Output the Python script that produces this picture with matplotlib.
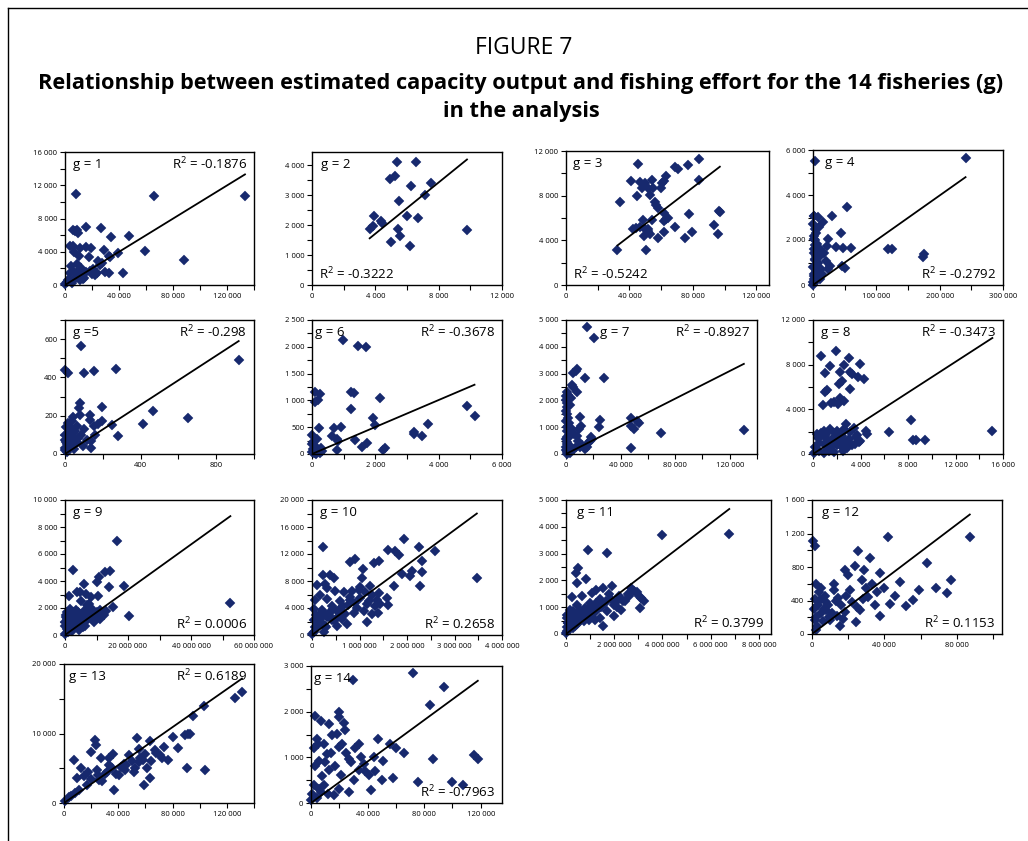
import matplotlib
matplotlib.use("Agg")
import matplotlib.pyplot as plt
from matplotlib.ticker import MultipleLocator, FuncFormatter
from matplotlib.lines import Line2D

plt.rcParams["mathtext.fontset"] = "custom"
plt.rcParams["mathtext.rm"] = "Open Sans"
plt.rcParams["mathtext.it"] = "Open Sans:italic"
plt.rcParams["mathtext.bf"] = "Open Sans:bold"

W, H = 1028, 841

# ---- fishery data: fishing effort (x) vs estimated capacity output (y) ----
g1_x = [8150, 65900, 133300, 6170, 8640, 9380, 7400, 15800, 26400, 34070, 47150,
        3700, 5900, 11360, 15550, 19500, 28640, 39500, 59500, 6670, 10120, 17530,
        4690, 8640, 24700, 25900, 32300, 33600, 88400, 3700, 6670, 9630, 12100,
        12840, 15550, 18500, 21000, 22500, 23900, 29900, 32800, 42700, 2220, 4940,
        11100, 13100, 5180, 1230, 250, 10500, 14000, 27500, 20000, 7800, 11800]
g1_y = [10930, 10650, 10690, 6650, 6650, 6260, 6500, 6970, 6850, 5780, 5940,
        4670, 4670, 4435, 4515, 4400, 4200, 3880, 4120, 3960, 3485, 3326,
        2300, 2530, 2930, 2415, 3485, 3326, 3010, 1425, 1505, 1742, 2060,
        1030, 1505, 1742, 1900, 1188, 1425, 1584, 1425, 1425, 634, 475,
        634, 713, 238, 317, 80, 1200, 900, 2700, 1300, 1000, 1800]

g2_x = [5347, 6589, 4947, 5263, 7536, 6273, 7115, 5515, 3894, 4378, 4420, 5999,
        6694, 3642, 3831, 5410, 5578, 4989, 6210, 9788]
g2_y = [4122, 4122, 3530, 3641, 3407, 3306, 3005, 2826, 2301, 2133, 2066, 2312,
        2256, 1877, 1966, 1877, 1653, 1430, 1296, 1854]

g3_x = [45440, 83790, 76640, 68680, 70570, 41250, 46480, 49620, 54230, 47950,
        51720, 54860, 60100, 60730, 61780, 63250, 83750, 53190, 44810, 34340,
        56120, 56960, 58010, 61780, 63250, 62000, 64300, 48580, 54440, 44390,
        46480, 51720, 49620, 42300, 51720, 52770, 49210, 58000, 61780, 68680,
        75170, 77510, 79390, 93180, 96320, 97000, 95900, 32460, 50260]
g3_y = [10800, 11310, 10710, 10530, 10350, 9295, 9265, 9144, 9385, 8693,
        8663, 8663, 8663, 9144, 9355, 9746, 9445, 8091, 7941, 7460,
        7460, 7189, 6919, 6437, 5896, 5715, 6016, 5836, 5805, 5114,
        5234, 5053, 5053, 5050, 4813, 4542, 4362, 4241, 4783, 5234,
        4241, 6317, 4783, 5384, 6618, 6560, 4572, 3098, 3098]

g4_x = [3665, 240860, 2094, 7330, 30370, 53400, 15180, 9425, 3142, 4190, 43980,
        3142, 24090, 6280, 11520, 21990, 35600, 47650, 60740, 118860, 124620,
        10470, 16760, 19900, 175930, 173840, 3142, 6280, 23040, 27230, 45550,
        50470, 1047, 5800, 11520, 1500, 0, 2094, 4190, 7330, 3142, 1000,
        500, 800, 1500, 2500, 600, 900, 2000, 5000, 8000, 12000, 14000, 700, 1200]
g4_y = [5509, 5629, 3046, 3016, 3046, 3449, 2807, 2598, 2508, 2329, 2299,
        1986, 2030, 1821, 1583, 1732, 1702, 1642, 1642, 1583, 1583,
        1284, 1433, 1045, 1359, 1254, 1135, 761, 717, 836, 866,
        776, 388, 388, 269, 90, 0, 1433, 612, 985, 1762, 2030,
        2700, 2200, 1600, 1100, 800, 500, 250, 1300, 1500, 700, 500, 150, 3050]

g5_x = [85, 0, 18, 101, 156, 272, 80, 76, 80, 196, 130, 44, 18, 62, 34, 130, 155,
        172, 194, 249, 414, 468, 649, 919, 279, 160, 84, 137, 94, 137, 2, 18, 44,
        5, 27, 2, 9, 62, 30, 53, 10, 25, 40, 70, 100, 115, 6, 15, 50, 0, 0, 35]
g5_y = [565, 441, 424, 421, 436, 445, 265, 238, 203, 248, 203, 191, 162, 148,
        138, 176, 148, 155, 174, 153, 157, 226, 186, 493, 93, 100, 97, 69, 41, 31,
        97, 79, 88, 62, 36, 19, 10, 62, 114, 122, 50, 60, 45, 85, 130, 75, 140,
        100, 25, 75, 30, 170]

g6_x = [984, 1460, 1703, 85, 265, 106, 190, 1227, 1323, 1227, 2148, 1915, 1979,
        3661, 3206, 3206, 3470, 4899, 5132, 212, 688, 931, 635, 794, 825, 804,
        1354, 1725, 1566, 2232, 2307, 159, 0, 0, 85, 286, 0, 138, 243,
        40, 60, 120, 180, 320, 30, 70]
g6_y = [2125, 2013, 1988, 1156, 1125, 969, 1000, 1156, 1138, 838, 1050, 675, 544,
        563, 419, 375, 338, 900, 713, 488, 481, 500, 338, 288, 238, 75,
        263, 200, 125, 75, 113, 281, 363, 188, 156, 113, 31, 0, 12,
        100, 60, 40, 80, 50, 230, 20]

g7_x = [15300, 20250, 5430, 7900, 7000, 13580, 27650, 4200, 5430, 7900, 490, 0,
        490, 990, 2960, 0, 1730, 4200, 10370, 10860, 9880, 7900, 2470, 490, 18270,
        17780, 19010, 24690, 24200, 47400, 47900, 49870, 53580, 51800, 69630,
        47400, 130360, 15310, 10370, 0, 490, 2960, 7400, 14070, 490, 0,
        200, 800, 1500, 300, 1200, 600, 2000, 3500, 1000, 0, 400, 2500, 6000, 9000,
        3000, 1800, 700, 12000, 16000, 5000]
g7_y = [4757, 4347, 3005, 3167, 3080, 2819, 2819, 2583, 2484, 2298, 2298, 2012,
        1739, 1490, 1838, 1242, 1056, 932, 1366, 1043, 932, 683, 621, 646, 621,
        497, 546, 1267, 994, 1341, 1056, 932, 1143, 1240, 782,
        224, 894, 273, 248, 149, 0, 50, 248, 186, 373, 248,
        2150, 1900, 2200, 1600, 1350, 850, 1150, 2100, 450, 550, 1000, 700, 750, 500,
        300, 120, 80, 350, 420, 150]

g8_x = [699, 1930, 3033, 3916, 2629, 1398, 979, 3133, 3273, 2293, 2433, 2153, 3804,
        4335, 3077, 1175, 979, 2237, 2629, 1510, 1734, 839, 2098,
        336, 895, 1454, 2014, 2573, 3133, 2797, 3413, 4531, 4475, 615, 1175, 1734,
        2294, 2993, 3636, 3972, 895, 1454, 2014, 2433, 2853, 196, 475, 895, 1315,
        56, 6377, 8279, 8447, 8643, 9426, 15104, 1874, 3832,
        500, 700, 1100, 1600, 1900, 2400, 2700, 3300, 3700, 1250, 2150, 2650, 3500,
        400, 1000, 1800, 2500, 3000]
g8_y = [8750, 9200, 8630, 8090, 8000, 7850, 7250, 7340, 7190, 7340, 6530, 6290, 6890,
        6680, 5840, 5690, 5540, 5030, 4790, 4550, 4640, 4370, 4490,
        1798, 2097, 2247, 2097, 2037, 1947, 2696, 2337, 1798, 2097, 1498, 1348, 1498,
        1198, 1348, 1558, 1198, 899, 659, 839, 599, 539, 599, 300, 60, 300,
        60, 2007, 3056, 1258, 1258, 1258, 2037, 1858, 1049,
        1000, 1900, 1750, 1100, 950, 1650, 1050, 850, 1700, 400, 1450, 2200, 900,
        1400, 1700, 200, 250, 800]

g9_x = [16.58e6, 2.46e6, 12.83e6, 14.44e6, 10.70e6, 10.16e6, 5.88e6, 3.74e6,
        4.81e6, 6.74e6, 1.39e6, 13.90e6, 18.72e6, 8.24e6, 5.03e6, 7.49e6, 10.37e6,
        15.29e6, 20.32e6, 52.5e6,
        0.53e6, 1.6e6, 2.67e6, 0.53e6, 2.14e6, 3.74e6, 5.35e6, 6.95e6, 8.56e6,
        10.16e6, 11.23e6, 11.76e6, 11.0e6, 9.09e6, 5.88e6, 3.74e6, 1.6e6, 0.53e6,
        0, 1.07e6, 2.67e6, 4.81e6, 6.42e6, 12.3e6, 0, 0.1e6, 1.2e6, 3.0e6, 4.2e6,
        7.8e6, 0.3e6, 2.0e6,
        0.8e6, 1.8e6, 2.9e6, 3.5e6, 4.5e6, 5.5e6, 6.2e6, 7.2e6, 8.0e6, 9.5e6,
        0.2e6, 1.4e6, 2.4e6, 3.2e6, 4.0e6, 5.0e6, 6.0e6, 7.0e6, 8.8e6, 13.0e6,
        0.6e6, 1.1e6, 2.2e6, 3.3e6, 4.4e6, 5.6e6, 0.4e6, 0.9e6]
g9_y = [6940, 4816, 4644, 4718, 4273, 3903, 3754, 3211, 3162, 3038, 2915, 3532,
        3656, 2791, 2544, 2297, 2915, 2050, 1433, 2347,
        1680, 1927, 1680, 1186, 1309, 1433, 1556, 1729, 1927, 1729, 1877, 1433,
        1186, 988, 939, 889, 692, 445, 74, 198, 445, 494, 692, 1482, 692, 939,
        1000, 1100, 800, 1300, 1500, 1800,
        1450, 1550, 1250, 1850, 1150, 1350, 1000, 1250, 1550, 1250,
        1300, 1100, 900, 1000, 1700, 700, 1800, 2200, 1100, 1800,
        600, 300, 300, 650, 400, 600, 1000, 850]

g10_x = [231600, 1.93e6, 2.25e6, 2.58e6, 1.61e6, 1.75e6, 1.84e6, 2.32e6, 912000,
         807000, 1.30e6, 1.42e6, 1.07e6, 2.10e6, 2.32e6, 1.89e6, 2.07e6, 232000,
         386000, 456000, 1.05e6, 3.47e6, 105000, 281000, 316000, 1.72e6, 2.28e6,
         1.02e6, 1.23e6,
         491000, 667000, 842000, 983000, 1.12e6, 1.26e6, 1.40e6, 175000, 316000,
         70000, 597000, 807000, 1.02e6, 1.19e6, 1.37e6, 1.58e6, 1.44e6, 1.59e6,
         421000, 211000, 386000, 597000, 702000, 877000, 1.09e6, 1.26e6, 1.38e6,
         1.16e6, 35000, 91000, 175000, 316000, 456000, 632000, 526000, 281000,
         105000, 35000, 246000, 0, 140000, 737000,
         50000, 150000, 250000, 350000, 450000, 550000, 650000, 750000, 950000,
         1.15e6, 1.32e6, 60000, 200000, 300000, 420000, 520000, 800000, 900000]
g10_y = [13000, 14250, 13100, 12400, 12650, 12400, 11800, 11000, 11300, 10750,
         10650, 10900, 9800, 9500, 9300, 9000, 8800, 8900, 8900, 8500, 8400, 8500,
         7400, 7500, 7000, 7300, 7300, 7150, 7300,
         6500, 6300, 6500, 6650, 6300, 5900, 6150, 5900, 5400, 5150, 5000, 5150,
         5500, 5000, 5150, 5500, 4650, 4400, 4300, 3650, 3400, 3800, 3150, 3300,
         3500, 3150, 3300, 1900, 3900, 2900, 2400, 2650, 2150, 2400, 1400, 1400,
         1150, 500, 500, 150, 1900, 1650,
         2200, 3000, 3300, 2900, 3900, 2700, 4300, 4400, 4000,
         4600, 4300, 1200, 1800, 1200, 2200, 3600, 5600, 4700]

g11_x = [6.77e6, 3.99e6, 909000, 1.68e6, 490000, 420000, 448000, 839000, 1.52e6,
         1.92e6, 657000, 1.08e6, 238000, 1.26e6, 2.69e6, 2.94e6, 3.03e6, 3.24e6,
         3.08e6, 2.55e6, 2.06e6, 2.45e6, 2.10e6, 1.71e6, 1.36e6, 1.43e6, 1.54e6,
         1.01e6, 797000, 448000, 168000, 28000, 56000, 308000, 587000, 867000,
         1.15e6, 727000, 448000, 168000, 28000, 308000, 0, 937000, 1.78e6,
         2.27e6, 1.99e6, 1.22e6, 600000, 350000, 100000, 1.3e6,
         200000, 400000, 550000, 700000, 850000, 1.0e6, 1.1e6, 1.25e6, 1.4e6,
         1.6e6, 1.85e6, 2.2e6, 2.8e6, 3.1e6, 250000, 500000, 650000, 950000,
         1.05e6, 1.2e6, 1.45e6, 1.65e6, 120000, 80000, 380000, 760000, 2.6e6,
         2.35e6, 2.0e6, 50000, 150000, 300000]
g11_y = [3750, 3700, 3138, 3038, 2475, 2288, 1913, 2038, 1725, 1788, 1413, 1538,
         1375, 1625, 1725, 1575, 1413, 1225, 975, 1475, 1200, 1225, 1000, 850, 975,
         600, 288, 1163, 975, 1100, 913, 700, 600, 625, 700, 725, 788, 475, 375,
         350, 100, 225, 38, 538, 1475, 913, 663, 538, 900, 800, 400, 1100,
         500, 550, 800, 850, 900, 1000, 900, 1150, 1300, 1150, 1300, 1400, 1600,
         1350, 250, 400, 600, 750, 700, 850, 1000, 1250, 150, 400, 300, 550,
         1400, 1250, 1100, 250, 650, 850]

g12_x = [556, 1670, 42200, 87200, 63300, 25600, 32200, 37800, 48900, 58900, 55600,
         43300, 31100, 21100, 14400, 7800, 4400, 1670, 10000, 18300, 26700, 37800,
         68300, 74400, 5000, 2200, 15600, 24400, 35000, 51700, 76700, 46100, 23900,
         18300, 27800, 8000, 12000,
         1000, 2000, 3000, 3500, 5000, 6000, 7000, 9000, 11000, 13000, 16000, 19000,
         22000, 28000, 30000, 33000, 36000, 40000, 2000, 4000, 12000, 20000, 29000,
         1500, 6500, 9500, 14000, 17000, 25000]
g12_y = [1110, 1050, 1158, 1158, 848, 991, 907, 728, 621, 525, 406, 358, 442, 525,
         430, 287, 406, 167, 167, 263, 287, 215, 549, 489, 549, 48, 96, 143, 346,
         334, 645, 454, 812, 764, 645, 380, 520,
         300, 200, 100, 350, 250, 150, 450, 350, 250, 400, 350, 450,
         380, 420, 550, 600, 500, 550, 600, 500, 600, 700, 770,
         420, 300, 200, 220, 180, 320]

g13_x = [131100, 125900, 103000, 63000, 66700, 23000, 23700, 54100, 88900, 91100,
         92600, 12600, 7400, 24400, 33300, 44400, 55600, 61500, 70400, 76300, 40700,
         51900, 63000, 25900, 17000, 11100, 3700, 740, 83700, 103700, 90400, 48100,
         37000, 20000, 59300, 33300, 9600, 30000, 45000, 58000, 15000,
         20000, 25000, 28000, 32000, 35000, 38000, 42000, 46000, 50000, 52000,
         56000, 60000, 64000, 68000, 72000, 18000, 8000, 5000, 27000, 36000, 55000,
         74000, 80000, 95000]
g13_y = [16000, 15150, 14000, 8860, 7570, 9000, 8290, 9290, 9720, 10000, 9860, 5000,
         6140, 4720, 5430, 5570, 5860, 5000, 6860, 6140, 4000, 4430, 3570, 3290,
         2570, 1860, 860, 290, 7860, 4720, 5000, 6860, 1860, 7290, 2570, 6430, 3570,
         4200, 4800, 6200, 3900,
         3500, 4000, 3200, 4500, 5000, 4200, 5200, 5500, 6000, 5000,
         6500, 7000, 6000, 7200, 6500, 4500, 1500, 1000, 6500, 7000, 7800,
         8000, 9500, 12500]

g14_x = [29500, 72300, 94000, 84200, 12600, 19600, 23200, 4200, 9100, 19600, 33700,
         47700, 56100, 26700, 37200, 44200, 51200, 86300, 117900, 5600, 12600,
         21000, 30200, 40700, 58200, 75800, 107400, 2100, 7000, 4200, 16100, 26700,
         42100, 11200, 18200, 0, 33700,
         2000, 3000, 5000, 8000, 10000, 14000, 6000, 9000, 15000, 17000, 22000,
         25000, 28000, 31000, 35000, 38000, 45000, 50000, 3000, 7000, 20000, 24000,
         1000, 12000, 20000, 60000, 66000, 100000, 115000]
g14_y = [2690, 2840, 2550, 2150, 1730, 1890, 1750, 1400, 1290, 1220, 1290, 1400,
         1290, 955, 844, 1000, 910, 955, 955, 910, 733, 620, 510, 620, 555, 466,
         400, 400, 244, 110, 178, 244, 290, 1065, 1510, 67, 733,
         1200, 800, 1300, 600, 900, 1100, 300, 400, 1500, 800, 1300,
         1100, 900, 1200, 1000, 700, 700, 500, 1900, 1800, 2000, 1600,
         200, 200, 300, 1200, 1100, 450, 1050]

fisheries = [(g1_x, g1_y), (g2_x, g2_y), (g3_x, g3_y), (g4_x, g4_y),
             (g5_x, g5_y), (g6_x, g6_y), (g7_x, g7_y), (g8_x, g8_y),
             (g9_x, g9_y), (g10_x, g10_y), (g11_x, g11_y), (g12_x, g12_y),
             (g13_x, g13_y), (g14_x, g14_y)]

panel_labels = ["g = 1", "g = 2", "g = 3", "g = 4", "g =5", "g = 6", "g = 7",
                "g = 8", "g = 9", "g = 10", "g = 11", "g = 12", "g = 13", "g = 14"]
r_squared = ["-0.1876", "-0.3222", "-0.5242", "-0.2792", "-0.298", "-0.3678",
             "-0.8927", "-0.3473", "0.0006", "0.2658", "0.3799", "0.1153",
             "0.6189", "-0.7963"]
# slope of the fitted line through the origin for each fishery
fit_slope = [0.0998, 0.429, 0.1092, 0.0199, 0.642, 0.2518, 0.0258, 0.688,
             1.677e-4, 0.005186, 6.89e-4, 0.01636, 0.1365, 0.0227]

# ---- layout (pixel boxes: left, right, top, bottom) ----
boxes = [(65, 254, 152, 285), (312, 502, 152, 285), (566, 769, 151, 285), (813, 1003, 150, 285),
         (65, 254, 320, 454), (312, 502, 320, 454), (566, 757, 320, 454), (813, 1003, 320, 454),
         (65, 254, 500, 635), (312, 502, 500, 635), (566, 771, 500, 634), (812, 1002, 500, 634),
         (64, 254, 664, 803), (311, 502, 666, 803)]
# (xmax, x major, ymax, y major)
scales = [(140000, 40000, 16000, 4000), (12000, 4000, 4450, 1000),
          (128000, 40000, 12000, 4000), (300000, 100000, 6000, 2000),
          (1000, 400, 700, 200), (6000, 2000, 2500, 500),
          (140000, 40000, 5000, 1000), (16000, 4000, 12000, 4000),
          (60e6, 20e6, 10000, 2000), (4e6, 1e6, 20000, 4000),
          (8.5e6, 2e6, 5000, 1000), (105000, 40000, 1600, 400),
          (140000, 40000, 20000, 10000), (135000, 40000, 3000, 1000)]
# horizontal offset (px) of the g label, and the corner holding the R^2 text
g_offset = [8, 9, 7, 12, 8, 3, 34, 8, 8, 8, 11, 10, 5, 3]
r_corner = ["tr", "bl", "bl", "br", "tr", "tr", "tr", "tr", "br", "br", "br", "br", "tr", "br"]

NAVY = "#17296e"
TICK_FONT = ["Open Sans", "DejaVu Sans"]


def thousands(v, pos):
    return f"{v:,.0f}".replace(",", " ")


fig = plt.figure(figsize=(W / 100, H / 100), dpi=100)

# frame around the figure
fig.add_artist(Line2D([8 / W, 8 / W], [0, 1 - 8 / H], color="black", lw=1.0, transform=fig.transFigure))
fig.add_artist(Line2D([8 / W, 1], [1 - 8 / H, 1 - 8 / H], color="black", lw=1.0, transform=fig.transFigure))

fig.text(524 / W, 1 - 48 / H, "FIGURE 7", ha="center", va="center",
         fontsize=16.5, family="Open Sans")
fig.text(521 / W, 1 - 83 / H,
         "Relationship between estimated capacity output and fishing effort for the 14 fisheries (g)",
         ha="center", va="center", fontsize=15.7, fontweight="bold", family="Open Sans")
fig.text(521 / W, 1 - 111 / H, "in the analysis", ha="center", va="center",
         fontsize=15.7, fontweight="bold", family="Open Sans")

for i, ((xs, ys), (l, r, t, b)) in enumerate(zip(fisheries, boxes)):
    ax = fig.add_axes([l / W, 1 - b / H, (r - l) / W, (b - t) / H])
    xmax, xmaj, ymax, ymaj = scales[i]
    ax.set_xlim(0, xmax)
    ax.set_ylim(0, ymax)
    ax.xaxis.set_major_locator(MultipleLocator(xmaj))
    ax.xaxis.set_minor_locator(MultipleLocator(xmaj / 2))
    ax.yaxis.set_major_locator(MultipleLocator(ymaj))
    ax.yaxis.set_minor_locator(MultipleLocator(ymaj / 2))
    ax.xaxis.set_major_formatter(FuncFormatter(thousands))
    ax.yaxis.set_major_formatter(FuncFormatter(thousands))
    ax.tick_params(which="both", direction="out", length=3.5, width=0.8, labelsize=5.5, pad=2)
    for lab in ax.get_xticklabels() + ax.get_yticklabels():
        lab.set_family(TICK_FONT)
    for sp in ax.spines.values():
        sp.set_linewidth(1.0)
        sp.set_zorder(5)

    ax.plot(xs, ys, linestyle="none", marker="D", ms=5.0, color=NAVY,
            markeredgecolor=NAVY, markeredgewidth=0.3, clip_on=False, zorder=3)

    x0, x1 = min(xs), max(xs)
    ax.plot([x0, x1], [fit_slope[i] * x0, fit_slope[i] * x1], color="black", lw=1.3, zorder=4)

    ax.annotate(panel_labels[i], xy=(0, 1), xycoords="axes fraction",
                xytext=(g_offset[i] * 0.72, -4), textcoords="offset points",
                ha="left", va="top", fontsize=9.5, family="Open Sans")
    rtext = r"R$^{2}$ = " + r_squared[i]
    c = r_corner[i]
    if c == "tr":
        xy, off, ha, va = (1, 1), (-5, -3), "right", "top"
    elif c == "bl":
        xy, off, ha, va = (0, 0), (5, 2), "left", "bottom"
    else:
        xy, off, ha, va = (1, 0), (-5, 2), "right", "bottom"
    ax.annotate(rtext, xy=xy, xycoords="axes fraction", xytext=off,
                textcoords="offset points", ha=ha, va=va, fontsize=9.5,
                family="Open Sans")

fig.savefig("out.png", dpi=100)
